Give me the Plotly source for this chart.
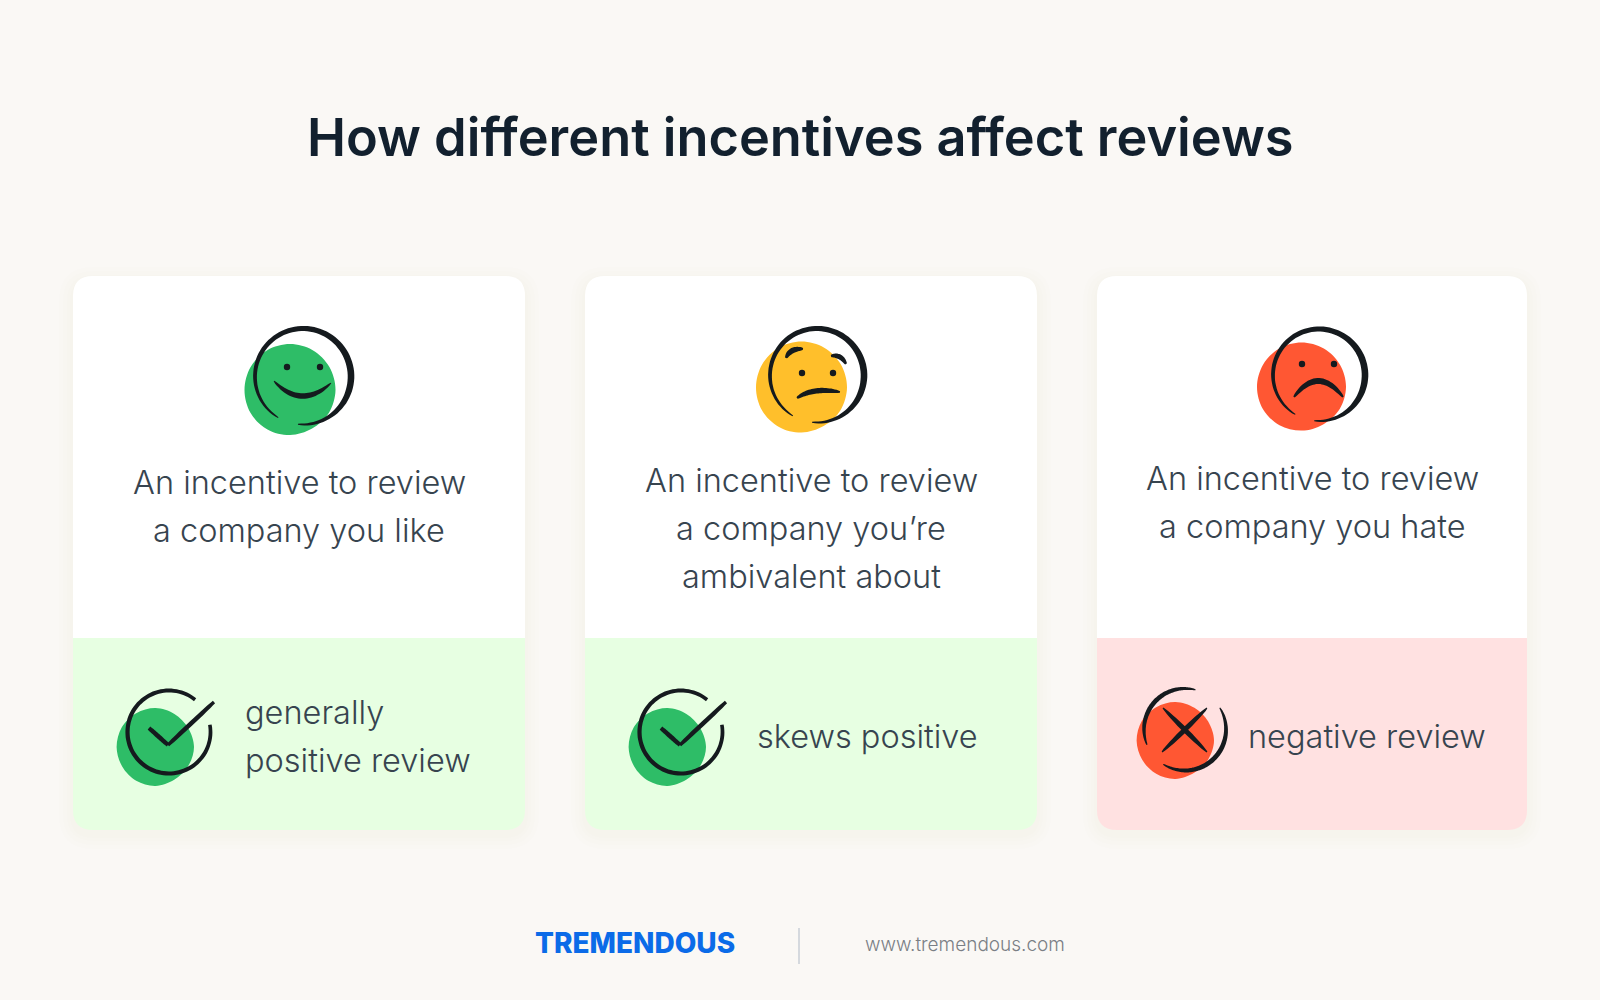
import numpy as np
import plotly.graph_objects as go

title_text = "How different incentives affect reviews"
card_lines = [
    ["An incentive to review", "a company you like"],
    ["An incentive to review", "a company you’re", "ambivalent about"],
    ["An incentive to review", "a company you hate"],
]
result_lines = [
    ["generally", "positive review"],
    ["skews positive"],
    ["negative review"],
]
brand_text = "TREMENDOUS"
url_text = "www.tremendous.com"

BG = "#FAF8F5"
TEXT = "#37444F"
DARK = "#151A1E"
GREEN = "#2EBD67"
YELLOW = "#FFBF2B"
RED = "#FF5733"
PALE_GREEN = "#E7FFE2"
PALE_RED = "#FFE1E1"

FACE_BLOB = [1.0, .99, .97, .98, .99, 1.0, 1.0, 1.0, 1.0, 1.0, 1.0, 1.0]
CHECK_BLOB = [1.0, .98, .97, 1.0, 1.0, 1.0, 1.01, 1.01, 1.0, 1.0, .98, .98]

shapes = []
annotations = []


def add_path(path, fill, line_color=None, line_width=0, opacity=1):
    shapes.append(dict(type="path", path=path, fillcolor=fill, opacity=opacity, layer="above",
                       line=dict(color=line_color or fill, width=line_width)))


def rounded(x0, y0, x1, y1, top_r, bottom_r):
    return (f"M{x0 + top_r},{y0} L{x1 - top_r},{y0} Q{x1},{y0} {x1},{y0 + top_r} "
            f"L{x1},{y1 - bottom_r} Q{x1},{y1} {x1 - bottom_r},{y1} "
            f"L{x0 + bottom_r},{y1} Q{x0},{y1} {x0},{y1 - bottom_r} "
            f"L{x0},{y0 + top_r} Q{x0},{y0} {x0 + top_r},{y0} Z")


def blob(cx, cy, rx, ry, factors, color):
    # smooth closed outline through points around the centre
    n = len(factors)
    ang = np.linspace(0, 2 * np.pi, n, endpoint=False)
    xs = cx + rx * np.array(factors) * np.cos(ang)
    ys = cy + ry * np.array(factors) * np.sin(ang)
    path = f"M{xs[0]:.1f},{ys[0]:.1f}"
    for i in range(n):
        p0, p1, p2, p3 = [(xs[(i + k) % n], ys[(i + k) % n]) for k in (-1, 0, 1, 2)]
        c1 = (p1[0] + (p2[0] - p0[0]) / 6, p1[1] + (p2[1] - p0[1]) / 6)
        c2 = (p2[0] - (p3[0] - p1[0]) / 6, p2[1] - (p3[1] - p1[1]) / 6)
        path += f" C{c1[0]:.1f},{c1[1]:.1f} {c2[0]:.1f},{c2[1]:.1f} {p2[0]:.1f},{p2[1]:.1f}"
    add_path(path + " Z", color)


def brush(xs, ys, width, end=0.25, bulge=None):
    # ink stroke as a filled outline, thin at both ends
    xs, ys = np.asarray(xs, float), np.asarray(ys, float)
    t = np.linspace(0, 1, len(xs))
    w = width * (end + (1 - end) * np.sin(np.pi * t) ** 0.6)
    if bulge is not None:
        w = w * (1 + bulge[0] * np.exp(-((t - bulge[1]) / 0.18) ** 2))
    dx, dy = np.gradient(xs), np.gradient(ys)
    norm = np.hypot(dx, dy)
    nx, ny = -dy / norm * w / 2, dx / norm * w / 2
    px = np.concatenate([xs + nx, (xs - nx)[::-1]])
    py = np.concatenate([ys + ny, (ys - ny)[::-1]])
    path = "M" + " L".join(f"{a:.1f},{b:.1f}" for a, b in zip(px, py)) + " Z"
    add_path(path, DARK)


def arc(cx, cy, r, a0, a1, width, end=0.25, bulge=None):
    ang = np.radians(np.linspace(a0, a1, 90))
    brush(cx + r * np.cos(ang), cy + r * np.sin(ang), width, end, bulge)


def curve(p0, p1, p2, width, end=0.25):
    t = np.linspace(0, 1, 30)
    xs = (1 - t) ** 2 * p0[0] + 2 * t * (1 - t) * p1[0] + t ** 2 * p2[0]
    ys = (1 - t) ** 2 * p0[1] + 2 * t * (1 - t) * p1[1] + t ** 2 * p2[1]
    brush(xs, ys, width, end)


def straight(p0, p1, width, end=0.25):
    brush(np.linspace(p0[0], p1[0], 20), np.linspace(p0[1], p1[1], 20), width, end)


def dot(x, y, r=3.2):
    shapes.append(dict(type="circle", x0=x - r, x1=x + r, y0=y - r, y1=y + r, layer="above",
                       fillcolor=DARK, line=dict(width=0)))


def text(x, y, s, size, color=TEXT, family="Inter", anchor="center", weight=300):
    annotations.append(dict(x=x, y=y, text=s, showarrow=False, xanchor=anchor, yanchor="middle",
                            font=dict(family=family, size=size, color=color, weight=weight)))


# cards
cards = [(73, 525, PALE_GREEN), (585, 1037, PALE_GREEN), (1097, 1527, PALE_RED)]
for x0, x1, lower in cards:
    for grow, alpha in [(14, 0.006), (10, 0.006), (6, 0.007), (3, 0.008)]:
        add_path(rounded(x0 - grow, 276 - grow + 5, x1 + grow, 830 + grow + 5, 20 + grow, 20 + grow),
                 f"rgba(90,80,60,{alpha})")
    add_path(rounded(x0, 276, x1, 638, 20, 0), "#FFFFFF")
    add_path(rounded(x0, 638, x1, 830, 0, 20), lower)

# faces
blob(290, 390, 45.5, 46, FACE_BLOB, GREEN)
arc(303, 376.5, 48, 96, -239, 5, 0.2, (0.5, 0.25))
dot(287, 367)
dot(320, 367)
curve((274, 381), (301, 410), (331, 383), 5.5, 0.15)

blob(801.5, 387.5, 45.5, 46, FACE_BLOB, YELLOW)
arc(817, 375.5, 47, 96, -239, 5, 0.2, (0.5, 0.25))
dot(802, 373)
dot(833, 373)
curve((786, 358), (790, 348), (803, 349), 5.5, 0.3)
curve((831, 356), (841, 354), (846, 364), 5, 0.35)
curve((797, 398), (813, 387), (840, 392), 5.5, 0.3)

blob(1301.5, 387, 44.5, 44.5, FACE_BLOB, RED)
arc(1319, 375, 46, 96, -239, 5, 0.2, (0.5, 0.25))
dot(1302, 364)
dot(1334, 364)
curve((1294, 397), (1318, 365), (1343, 397), 6, 0.3)

# result icons
for dx, color in [(0, GREEN), (512, GREEN)]:
    blob(155.5 + dx, 747, 38.5, 39, CHECK_BLOB, color)
    arc(169 + dx, 732, 41.5, -10, 309, 4.2, 0.85)
    straight((149 + dx, 728), (168 + dx, 745), 4.6, 0.85)
    straight((168 + dx, 745), (214 + dx, 702), 4.6, 0.7)

blob(1175.5, 740.5, 38.5, 38.5, CHECK_BLOB, RED)
arc(1185, 729.5, 41, 158, 285, 4.6, 0.2)
arc(1185, 729.5, 41, -32, 122, 4.8, 0.2)
straight((1163, 708), (1207, 752), 5, 0.2)
straight((1207, 708), (1162, 752), 5, 0.2)

# text
text(800, 137, title_text, 52.3, color="#12202E", weight=600)

for lines, cx, y0 in zip(card_lines, [299, 811, 1312], [482, 480, 478]):
    for i, s in enumerate(lines):
        text(cx, y0 + 48 * i, s, 32.5)

result_y = [[712, 760], [736], [736]]
for lines, x, ys in zip(result_lines, [243, 755, 1246], result_y):
    for s, y in zip(lines, ys):
        text(x, y, s, 32.5, anchor="left")

text(634.5, 943, brand_text, 28, color="#0B6BE8", weight=800)
text(964.5, 944, url_text, 19, color="#7A7F85")
shapes.append(dict(type="line", x0=799, x1=799, y0=928, y1=964, layer="above",
                   line=dict(color="#C9CFD6", width=1.5)))

fig = go.Figure()
fig.update_layout(
    width=1600, height=1000, margin=dict(l=0, r=0, t=0, b=0),
    paper_bgcolor=BG, plot_bgcolor=BG, showlegend=False,
    xaxis=dict(range=[0, 1600], visible=False, fixedrange=True),
    yaxis=dict(range=[1000, 0], visible=False, fixedrange=True),
    shapes=shapes, annotations=annotations,
)
fig.write_html("out.html", config=dict(displayModeBar=False),
               post_script="document.body.style.margin='0';document.body.style.background='" + BG + "';")
